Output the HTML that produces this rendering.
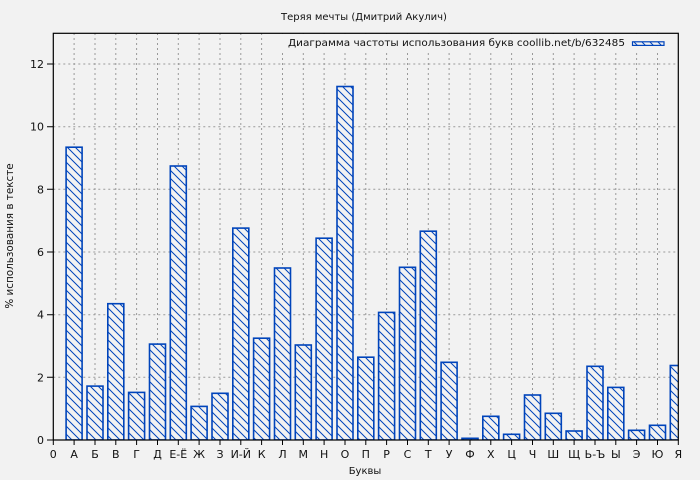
<!DOCTYPE html>
<html><head><meta charset="utf-8"><style>
html,body{margin:0;padding:0;background:#f2f2f2;}
svg{display:block;font-family:"DejaVu Sans","Liberation Sans",sans-serif;}
</style></head><body>
<svg width="700" height="480" viewBox="0 0 700 480" xmlns="http://www.w3.org/2000/svg">
<defs>
<pattern id="h" patternUnits="userSpaceOnUse" width="8" height="8">
<rect width="8" height="8" fill="#f2f2f2"/>
<path d="M-1,-1 L9,9 M-1,7 L1,9 M7,-1 L9,1" stroke="#0044bb" stroke-width="1"/>
</pattern>
<clipPath id="c"><rect x="53.3" y="33" width="625" height="407"/></clipPath>
</defs>
<rect width="700" height="480" fill="#f2f2f2"/>
<text x="364" y="20" font-size="10" text-anchor="middle" fill="#111">Теряя мечты (Дмитрий Акулич)</text>
<g stroke="#999" stroke-width="1" stroke-dasharray="2,3">
<path d="M53.3,377.3H678.3M53.3,314.7H678.3M53.3,252H678.3M53.3,189.3H678.3M53.3,126.7H678.3M53.3,64H678.3"/>
<path d="M74.1,33V440M95,33V440M115.8,33V440M136.6,33V440M157.5,33V440M178.3,33V440M199.1,33V440M220,33V440M240.8,33V440M261.6,33V440M282.5,33V440M303.3,33V440M324.1,33V440M345,33V440M365.8,33V440M386.6,33V440M407.5,33V440M428.3,33V440M449.1,33V440M470,33V440M490.8,33V440M511.6,33V440M532.5,33V440M553.3,33V440M574.1,33V440M595,33V440M615.8,33V440M636.6,33V440M657.5,33V440"/>
</g>
<rect x="276" y="34" width="400" height="16" fill="#f2f2f2"/>
<g clip-path="url(#c)" fill="url(#h)" stroke="#0044bb" stroke-width="1.6">
<rect x="66.1" y="147.2" width="16" height="292.8"/>
<rect x="87" y="386.1" width="16" height="53.9"/>
<rect x="107.8" y="303.7" width="16" height="136.3"/>
<rect x="128.6" y="392.4" width="16" height="47.6"/>
<rect x="149.5" y="344.1" width="16" height="95.9"/>
<rect x="170.3" y="166" width="16" height="274"/>
<rect x="191.1" y="406.4" width="16" height="33.6"/>
<rect x="212" y="393.3" width="16" height="46.7"/>
<rect x="232.8" y="228.1" width="16" height="211.9"/>
<rect x="253.6" y="338.2" width="16" height="101.8"/>
<rect x="274.5" y="268" width="16" height="172"/>
<rect x="295.3" y="345" width="16" height="95"/>
<rect x="316.1" y="238.2" width="16" height="201.8"/>
<rect x="337" y="86.5" width="16" height="353.5"/>
<rect x="357.8" y="357.2" width="16" height="82.8"/>
<rect x="378.6" y="312.4" width="16" height="127.6"/>
<rect x="399.5" y="267.3" width="16" height="172.7"/>
<rect x="420.3" y="231.2" width="16" height="208.8"/>
<rect x="441.1" y="362.3" width="16" height="77.7"/>
<rect x="462" y="438.3" width="16" height="1.7"/>
<rect x="482.8" y="416.3" width="16" height="23.7"/>
<rect x="503.6" y="434.3" width="16" height="5.7"/>
<rect x="524.5" y="395" width="16" height="45"/>
<rect x="545.3" y="413.3" width="16" height="26.7"/>
<rect x="566.1" y="431" width="16" height="9"/>
<rect x="587" y="366.3" width="16" height="73.7"/>
<rect x="607.8" y="387.4" width="16" height="52.6"/>
<rect x="628.6" y="430.3" width="16" height="9.7"/>
<rect x="649.5" y="425.3" width="16" height="14.7"/>
<rect x="670.3" y="365.5" width="16" height="74.5"/>
</g>
<text x="625" y="46" font-size="10" text-anchor="end" fill="#111" textLength="337" lengthAdjust="spacingAndGlyphs">Диаграмма частоты использования букв coollib.net/b/632485</text>
<rect x="632.5" y="41.8" width="31.5" height="3.6" fill="url(#h)" stroke="#0044bb" stroke-width="1.2"/>
<rect x="53.3" y="33.3" width="625" height="406.7" fill="none" stroke="#000" stroke-width="1.2"/>
<g stroke="#000" stroke-width="1">
<path d="M47,440H53M47,377.3H53M47,314.7H53M47,252H53M47,189.3H53M47,126.7H53M47,64H53"/>
<path d="M53.3,440V445M74.1,440V445M95,440V445M115.8,440V445M136.6,440V445M157.5,440V445M178.3,440V445M199.1,440V445M220,440V445M240.8,440V445M261.6,440V445M282.5,440V445M303.3,440V445M324.1,440V445M345,440V445M365.8,440V445M386.6,440V445M407.5,440V445M428.3,440V445M449.1,440V445M470,440V445M490.8,440V445M511.6,440V445M532.5,440V445M553.3,440V445M574.1,440V445M595,440V445M615.8,440V445M636.6,440V445M657.5,440V445M678.3,440V445"/>
</g>
<g font-size="11" fill="#111" text-anchor="end">
<text x="44" y="444">0</text>
<text x="44" y="381.3">2</text>
<text x="44" y="318.7">4</text>
<text x="44" y="256">6</text>
<text x="44" y="193.3">8</text>
<text x="44" y="130.7">10</text>
<text x="44" y="68">12</text>
</g>
<g font-size="11" fill="#111" text-anchor="middle">
<text x="53.3" y="458">0</text>
<text x="74.1" y="458">А</text>
<text x="95" y="458">Б</text>
<text x="115.8" y="458">В</text>
<text x="136.6" y="458">Г</text>
<text x="157.5" y="458">Д</text>
<text x="178.3" y="458">Е-Ё</text>
<text x="199.1" y="458">Ж</text>
<text x="220" y="458">З</text>
<text x="240.8" y="458">И-Й</text>
<text x="261.6" y="458">К</text>
<text x="282.5" y="458">Л</text>
<text x="303.3" y="458">М</text>
<text x="324.1" y="458">Н</text>
<text x="345" y="458">О</text>
<text x="365.8" y="458">П</text>
<text x="386.6" y="458">Р</text>
<text x="407.5" y="458">С</text>
<text x="428.3" y="458">Т</text>
<text x="449.1" y="458">У</text>
<text x="470" y="458">Ф</text>
<text x="490.8" y="458">Х</text>
<text x="511.6" y="458">Ц</text>
<text x="532.5" y="458">Ч</text>
<text x="553.3" y="458">Ш</text>
<text x="574.1" y="458">Щ</text>
<text x="595" y="458">Ь-Ъ</text>
<text x="615.8" y="458">Ы</text>
<text x="636.6" y="458">Э</text>
<text x="657.5" y="458">Ю</text>
<text x="678.3" y="458">Я</text>
</g>
<text x="365" y="474" font-size="10" text-anchor="middle" fill="#111">Буквы</text>
<text transform="translate(13,236) rotate(-90)" font-size="10.4" text-anchor="middle" fill="#111">% использования в тексте</text>
</svg>
</body></html>
